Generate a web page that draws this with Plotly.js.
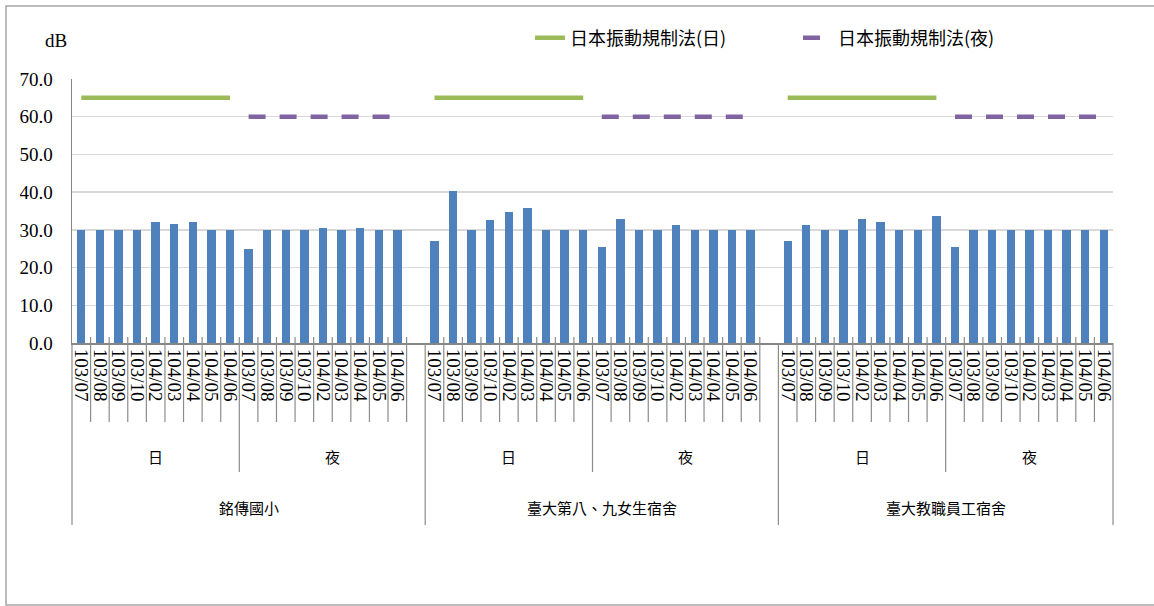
<!DOCTYPE html>
<html>
<head>
<meta charset="utf-8">
<script src="https://cdn.plot.ly/plotly-3.0.1.min.js"></script>
<style>html,body{margin:0;padding:0;background:#fff;}#chart{width:1154px;height:606px;}</style>
</head>
<body>
<div id="chart"></div>
<script>
// ---- data ----
const months = ['103/07','103/08','103/09','103/10','104/02','104/03','104/04','104/05','104/06'];
const locations = ['銘傳國小','臺大第八、九女生宿舍','臺大教職員工宿舍'];
const periods = ['日','夜'];
const mingchuanDay   = [30.0, 30.0, 30.0, 30.0, 32.0, 31.6, 32.0, 30.0, 30.0];
const mingchuanNight = [24.8, 30.0, 30.0, 30.0, 30.5, 30.0, 30.5, 30.0, 30.0];
const girlsDormDay   = [27.0, 40.4, 30.0, 32.6, 34.7, 35.8, 30.0, 30.0, 30.0];
const girlsDormNight = [25.5, 33.0, 30.0, 30.0, 31.2, 30.0, 30.0, 30.0, 30.0];
const staffDormDay   = [27.0, 31.2, 30.0, 30.0, 33.0, 32.0, 30.0, 30.0, 33.7];
const staffDormNight = [25.5, 30.0, 30.0, 30.0, 30.0, 30.0, 30.0, 30.0, 30.0];
const blankSlots = [1, 1, 0];
const dayLimit = 65;
const nightLimit = 60;
const legendDay = '日本振動規制法(日)';
const legendNight = '日本振動規制法(夜)';
const unitLabel = 'dB';

const seriesByLocation = [
  [mingchuanDay, mingchuanNight],
  [girlsDormDay, girlsDormNight],
  [staffDormDay, staffDormNight]
];

// ---- build positions ----
const xs = [], ys = [], tickvals = [], ticktext = [], dayY = [], nightY = [];
const periodSpans = [], locSpans = [];
let idx = 0;
locations.forEach((loc, li) => {
  const ls = idx;
  const spansHere = [];
  periods.forEach((p, pi) => {
    const ps = idx;
    months.forEach((m, mi) => {
      xs.push(idx); ys.push(seriesByLocation[li][pi][mi]);
      tickvals.push(idx); ticktext.push(m);
      dayY.push(pi === 0 ? dayLimit : null);
      nightY.push(pi === 1 ? nightLimit : null);
      idx++;
    });
    spansHere.push({label: p, start: ps, end: idx, last: pi === periods.length - 1});
  });
  for (let b = 0; b < blankSlots[li]; b++) {
    xs.push(idx); ys.push(null); dayY.push(null); nightY.push(null);
    tickvals.push(idx); ticktext.push('');
    idx++;
  }
  spansHere[spansHere.length - 1].end = idx; // last period span reaches the group end
  spansHere.forEach(s => periodSpans.push(s));
  locSpans.push({label: loc, start: ls, end: idx});
});
const N = idx;

// ---- geometry helpers (layout pixels -> paper) ----
const W = 1154, H = 606, ML = 72, MR = 41, MT = 79, MB = 263;
const PW = W - ML - MR, PH = H - MT - MB;
const bx = b => (b) / N;                 // slot edge -> paper x
const py = pix => (H - MB - pix) / PH;   // pixel y -> paper y

const shapes = [];
const locBounds = new Set(), perBounds = new Set();
locSpans.forEach(s => { locBounds.add(s.start); locBounds.add(s.end); });
periodSpans.forEach(s => { if (!s.last) perBounds.add(s.end); });
for (let b = 0; b <= N; b++) {
  let y0 = py(337), y1 = py(422), col = '#8c8c8c';
  if (locBounds.has(b)) { y0 = py(343); y1 = py(525); }
  else if (perBounds.has(b)) { y1 = py(472); }
  shapes.push({type:'line', xref:'paper', yref:'paper', x0:bx(b), x1:bx(b), y0:y0, y1:y1,
    line:{color:col, width:1.2}});
}
// outer chart border
shapes.push({type:'rect', xref:'paper', yref:'paper',
  x0:(6 - ML)/PW, x1:(1170 - ML)/PW, y0:py(605), y1:py(6),
  line:{color:'#a6a6a6', width:1.5}, fillcolor:'rgba(0,0,0,0)'});

const annFont = {family:'"Noto Sans CJK TC", "Noto Sans CJK SC", sans-serif', size:15, color:'#000'};
const annotations = [];
periodSpans.forEach(s => annotations.push({xref:'paper', yref:'paper',
  x: bx((s.start + s.end)/2), y: py(456), text: s.label, showarrow:false, font: annFont,
  xanchor:'center', yanchor:'middle'}));
locSpans.forEach(s => annotations.push({xref:'paper', yref:'paper',
  x: bx((s.start + s.end)/2), y: py(507), text: s.label, showarrow:false, font: annFont,
  xanchor:'center', yanchor:'middle'}));
annotations.push({xref:'paper', yref:'paper', x:(56 - ML)/PW, y:py(40), text:unitLabel,
  showarrow:false, font:{family:'"Liberation Serif", serif', size:19, color:'#000'},
  xanchor:'center', yanchor:'middle'});

const traces = [
  {type:'bar', x:xs, y:ys, width:0.45, marker:{color:'#4F81BD', line:{width:0}},
   showlegend:false, hoverinfo:'y'},
  {type:'scatter', mode:'lines', x:xs, y:dayY, name:legendDay, connectgaps:false,
   line:{color:'#9BBB59', width:4.5}},
  {type:'scatter', mode:'lines', x:xs, y:nightY, name:legendNight, connectgaps:false,
   line:{color:'#8064A2', width:4.5, dash:'17px,14px'}}
];

const serif = '"Liberation Serif", "Times New Roman", serif';
const layout = {
  width: W, height: H,
  margin: {l:ML, r:MR, t:MT, b:MB, pad:0},
  paper_bgcolor:'#fff', plot_bgcolor:'#fff',
  showlegend: true,
  legend: {orientation:'h', x:(530 - ML)/PW, xanchor:'left', y:py(38), yanchor:'middle',
    entrywidth: 223, entrywidthmode:'pixels',
    font:{family:'"Noto Sans CJK TC", "Noto Sans CJK SC", sans-serif', size:18, color:'#000'},
    bgcolor:'rgba(0,0,0,0)', traceorder:'normal'},
  xaxis: {range:[-0.5, N - 0.5], tickmode:'array', tickvals:tickvals, ticktext:ticktext,
    tickangle:90, ticks:'', showgrid:false, zeroline:false, showline:true,
    linecolor:'#868686', linewidth:2, tickfont:{family:serif, size:19, color:'#000'},
    fixedrange:true},
  yaxis: {range:[0,70], dtick:10, tick0:0, tickformat:'.1f', ticks:'', showgrid:true,
    gridcolor:'#d9d9d9', gridwidth:1.5, zeroline:false, showline:true, linecolor:'#868686',
    linewidth:1.5, tickfont:{family:serif, size:19, color:'#000'}, ticklabelstandoff:14,
    fixedrange:true},
  shapes: shapes,
  annotations: annotations,
  bargap: 0
};
Plotly.newPlot('chart', traces, layout, {displayModeBar:false, staticPlot:true});
</script>
</body>
</html>
